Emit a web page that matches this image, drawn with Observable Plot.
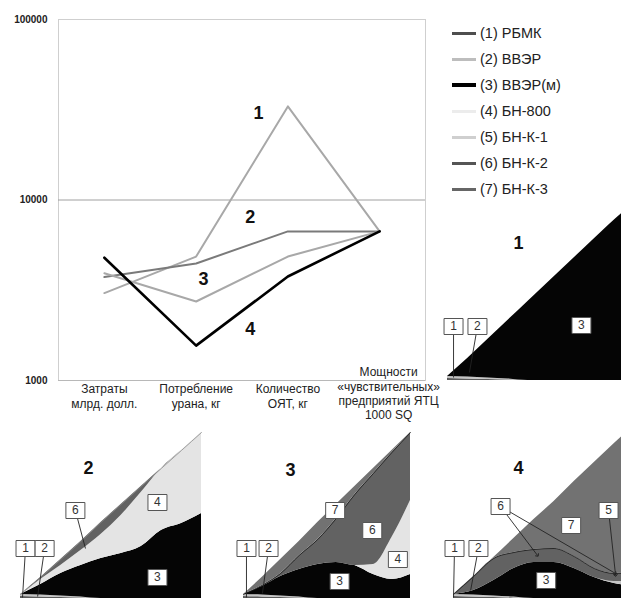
<!DOCTYPE html>
<html><head><meta charset="utf-8">
<script src="https://cdn.jsdelivr.net/npm/d3@7"></script>
<script src="https://cdn.jsdelivr.net/npm/@observablehq/plot@0.6"></script>
<style>
html,body{margin:0;padding:0;background:#fff;overflow:hidden;}
body{width:621px;height:601px;position:relative;font-family:"Liberation Sans",Arial,sans-serif;}
.abs{position:absolute;}
.abs svg{max-width:none !important;overflow:visible;background:transparent;}
#legend .row{display:flex;align-items:center;height:26px;font-size:14.5px;color:#222;white-space:nowrap;}
#legend .sw{display:inline-block;width:24px;margin-right:4px;}
</style></head><body>
<div id="main" class="abs" style="left:0;top:0"></div>
<div id="legend" class="abs" style="left:452px;top:20px"></div>
<div id="p1" class="abs" style="left:435px;top:200px"></div>
<div id="p2" class="abs" style="left:0;top:420px"></div>
<div id="p3" class="abs" style="left:215px;top:420px"></div>
<div id="p4" class="abs" style="left:425px;top:420px"></div>
<script>
// ---------- main chart data ----------
const categories = ["Затраты\nмлрд. долл.", "Потребление\nурана, кг", "Количество\nОЯТ, кг", "Мощности\n«чувствительных»\nпредприятий ЯТЦ\n1000 SQ"];
const scenarioNames = ["1", "2", "3", "4"];
const scen1 = [3050, 4860, 33000, 6700];
const scen2 = [3740, 4450, 6700, 6700];
const scen3 = [3930, 2740, 4860, 6700];
const scen4 = [4790, 1560, 3770, 6700];
const yTicks = [1000, 10000, 100000];
const lineColors = ["#a8a8a8", "#7a7a7a", "#a8a8a8", "#000000"];
// scenario labels on the line chart (category index, value)
const scenLabelX = [1.68, 1.59, 1.08, 1.59];
const scenLabelV = [30100, 8000, 3630, 1920];

// ---------- reactor types ----------
const reactorTypes = ["(1) РБМК", "(2) ВВЭР", "(3) ВВЭР(м)", "(4) БН-800", "(5) БН-К-1", "(6) БН-К-2", "(7) БН-К-3"];
const shortTypes = ["1", "2", "3", "4", "5", "6", "7"];
const legendColors = ["#4e4e4e", "#bdbdbd", "#000000", "#ececec", "#cfcfcf", "#555555", "#666666"];
const areaColors = ["#5a5a5a", "#c4c4c4", "#050505", "#e4e4e4", "#c6c6c6", "#626262", "#727272"];

// ---------- scenario panels (capacity, arbitrary units) ----------
const years = [2010, 2020, 2030, 2040, 2050, 2060, 2070, 2080, 2090, 2100];
const rbmk = [2, 1.5, 1, 0.5, 0, 0, 0, 0, 0, 0];
const vver = [2, 2, 1.5, 1, 0, 0, 0, 0, 0, 0];
// scenario 1
const p1vverM = [0, 18.5, 38.5, 58.5, 79, 98, 117, 136, 155, 173];
// scenario 2
const p2vverM = [0, 10.5, 22.5, 31.5, 40, 45, 52, 68, 75, 85];
const p2bn800 = [0, 5, 8, 15, 24, 38, 54, 62, 73, 81];
const p2bnk2 = [0, 2, 6, 9, 12, 11, 6, 0, 0, 0];
// scenario 3
const p3vverM = [0, 8.5, 19.5, 27.5, 34, 36, 33, 24, 19, 24];
const p3bn800 = [0, 0, 0, 0, 0, 0, 0, 10, 42, 74];
const p3bnk2 = [0, 1, 3, 14, 25, 44, 71, 91, 85, 68];
const p3bnk3 = [0, 8, 14, 14, 17, 14, 8, 5, 2, 0];
// scenario 4
const p4vverM = [0, 4.5, 15.5, 28.5, 36, 36, 30, 21, 15, 12];
const p4bnk1 = [0, 0, 0, 0, 0, 0, 0, 0, 2, 5];
const p4bnk2 = [0, 14, 22, 16, 13, 14, 12, 9, 8, 9];
const p4bnk3 = [0, 0, 1, 14, 30, 47, 75, 106, 130, 147];

// annotations: [label, year, value]
const p1Boxes = [["1", 2013, 54], ["2", 2024.9, 54], ["3", 2076.6, 55]];
const p1Links = [[2013, 54, 2013, 3], [2024.9, 54, 2020.9, 8]];
const p2Boxes = [["1", 2012.5, 50], ["2", 2022, 50], ["6", 2037.3, 88], ["4", 2078.1, 96], ["3", 2078.1, 21]];
const p2Links = [[2012.5, 50, 2011, 1], [2022, 50, 2018.5, 2], [2037.3, 88, 2042.3, 50]];
const p3Boxes = [["1", 2011.6, 50], ["2", 2023.5, 50], ["7", 2059.4, 88], ["6", 2079.4, 68], ["4", 2093.2, 39], ["3", 2061.8, 17]];
const p3Links = [[2011.6, 50, 2011.6, 1], [2023.5, 50, 2020.2, 5]];
const p4Boxes = [["1", 2010.5, 50], ["2", 2022.4, 50], ["6", 2033.4, 92], ["7", 2068.5, 73], ["5", 2087.1, 88], ["3", 2056.1, 18]];
const p4Links = [[2010.5, 50, 2010, 1], [2022.4, 50, 2018.5, 8]];
const p4Arrows = [[2033.4, 92, 2051.8, 43], [2033.4, 92, 2090.6, 25], [2087.1, 88, 2090.6, 23]];
const panelTitles = [["1", 2045.3, 137], ["2", 2043.8, 130], ["3", 2035.3, 128], ["4", 2042.3, 130]];

const FONT = "Liberation Sans, Arial, sans-serif";

// ---------- main line chart ----------
const scenValues = [scen1, scen2, scen3, scen4];
const rows = [];
scenValues.forEach((vals, k) => vals.forEach((v, i) => rows.push({scenario: scenarioNames[k], idx: i, value: v})));
const catRows = categories.map((c, i) => ({idx: i, label: c}));
const scenLabels = scenarioNames.map((s, k) => ({label: s, x: scenLabelX[k], v: scenLabelV[k]}));

const main = Plot.plot({
  width: 450, height: 420,
  marginLeft: 58, marginRight: 25, marginTop: 19, marginBottom: 40,
  style: {fontFamily: FONT, background: "transparent"},
  x: {domain: [-0.5, 3.5], axis: null},
  y: {type: "log", domain: [1000, 100000], axis: null},
  color: {domain: scenarioNames, range: lineColors},
  marks: [
    Plot.frame({stroke: "#cfcfcf"}),
    Plot.ruleY([10000], {stroke: "#a0a0a0", strokeWidth: 1}),
    Plot.ruleY([1000], {stroke: "#b8b8b8", strokeWidth: 1}),
    Plot.axisY({ticks: yTicks, tickFormat: d => String(d), tickSize: 0, tickPadding: 11, fontSize: 10, fontWeight: "bold", label: null, fill: "#222"}),
    Plot.line(rows.filter(r => r.scenario !== "4"), {x: "idx", y: "value", z: "scenario", stroke: "scenario", strokeWidth: 2}),
    Plot.line(rows.filter(r => r.scenario === "4"), {x: "idx", y: "value", z: "scenario", stroke: "scenario", strokeWidth: 2.6}),
    Plot.text(scenLabels, {x: "x", y: "v", text: "label", fontSize: 18, fontWeight: "bold", fill: "#111"}),
    Plot.text(catRows.slice(0, 3), {x: "idx", frameAnchor: "bottom", dy: 3, lineAnchor: "top", text: "label", fontSize: 12, lineHeight: 1.17, fill: "#222"}),
    Plot.text(catRows.slice(3), {x: "idx", frameAnchor: "bottom", dy: -14, dx: 9, lineAnchor: "top", text: "label", fontSize: 12, lineHeight: 1.17, fill: "#222"})
  ]
});
document.getElementById("main").appendChild(main);

// ---------- legend ----------
const legend = document.getElementById("legend");
reactorTypes.forEach((t, i) => {
  const row = document.createElement("div");
  row.className = "row";
  const sw = document.createElement("span");
  sw.className = "sw";
  sw.style.height = (i === 2 ? 4 : 3) + "px";
  sw.style.background = legendColors[i];
  row.appendChild(sw);
  row.appendChild(document.createTextNode(t));
  legend.appendChild(row);
});

// ---------- panels ----------
const boxSymbol = {draw(ctx) { ctx.moveTo(-9.5, -8); ctx.lineTo(9.5, -8); ctx.lineTo(9.5, 8); ctx.lineTo(-9.5, 8); ctx.closePath(); }};

function cumulative(series, upto) {
  return years.map((y, i) => ({year: y, value: d3.sum(series.slice(0, upto + 1), s => s[1][i])}));
}

function panel({series, boxes, links, arrows = [], title, width, marginLeft, marginRight, marginTop, height, marginBottom, boundaries = [], envelope = false}) {
  const data = [];
  series.forEach(([type, vals]) => vals.forEach((v, i) => data.push({year: years[i], type, value: v})));
  const marks = [
    Plot.areaY(data, {x: "year", y: "value", z: "type", fill: "type", curve: "monotone-x"})
  ];
  boundaries.forEach(k => marks.push(Plot.line(cumulative(series, k), {x: "year", y: "value", stroke: "#1a1a1a", strokeWidth: 0.8, curve: "monotone-x"})));
  if (envelope) marks.push(Plot.line(cumulative(series, series.length - 1), {x: "year", y: "value", stroke: "#8a8a8a", strokeWidth: 0.8, curve: "monotone-x"}));
  marks.push(
    Plot.link(links, {x1: d => d[0], y1: d => d[1], x2: d => d[2], y2: d => d[3], stroke: "#222", strokeWidth: 0.9}),
    Plot.link(arrows, {x1: d => d[0], y1: d => d[1], x2: d => d[2], y2: d => d[3], stroke: "#222", strokeWidth: 0.9, markerEnd: "arrow"}),
    Plot.dot(boxes, {x: d => d[1], y: d => d[2], symbol: boxSymbol, r: 5, fill: "white", stroke: "#555", strokeWidth: 1}),
    Plot.text(boxes, {x: d => d[1], y: d => d[2], text: d => d[0], fontSize: 12, fill: "#333"}),
    Plot.text([title], {x: d => d[1], y: d => d[2], text: d => d[0], fontSize: 18, fontWeight: "bold", fill: "#111"})
  );
  return Plot.plot({
    width, height, marginLeft, marginRight, marginTop, marginBottom,
    style: {fontFamily: FONT, background: "transparent", overflow: "visible"},
    x: {domain: [2010, 2100], axis: null},
    y: {domain: [0, 175], axis: null},
    color: {domain: shortTypes, range: areaColors},
    marks
  });
}

document.getElementById("p1").appendChild(panel({
  series: [["1", rbmk], ["2", vver], ["3", p1vverM]],
  boxes: p1Boxes, links: p1Links, title: panelTitles[0],
  width: 205, marginLeft: 12, marginRight: 12, height: 182, marginTop: 5, marginBottom: 2
}));
document.getElementById("p2").appendChild(panel({
  series: [["1", rbmk], ["2", vver], ["3", p2vverM], ["4", p2bn800], ["6", p2bnk2]],
  boxes: p2Boxes, links: p2Links, title: panelTitles[1], envelope: true,
  width: 210, marginLeft: 20, marginRight: 9, height: 181, marginTop: 3, marginBottom: 3
}));
document.getElementById("p3").appendChild(panel({
  series: [["1", rbmk], ["2", vver], ["3", p3vverM], ["4", p3bn800], ["6", p3bnk2], ["7", p3bnk3]],
  boxes: p3Boxes, links: p3Links, title: panelTitles[2], boundaries: [4],
  width: 205, marginLeft: 28, marginRight: 10, height: 181, marginTop: 3, marginBottom: 3
}));
document.getElementById("p4").appendChild(panel({
  series: [["1", rbmk], ["2", vver], ["3", p4vverM], ["5", p4bnk1], ["6", p4bnk2], ["7", p4bnk3]],
  boxes: p4Boxes, links: p4Links, arrows: p4Arrows, title: panelTitles[3], boundaries: [4],
  width: 220, marginLeft: 28, marginRight: 11, height: 181, marginTop: 3, marginBottom: 3
}));
</script>
</body></html>
